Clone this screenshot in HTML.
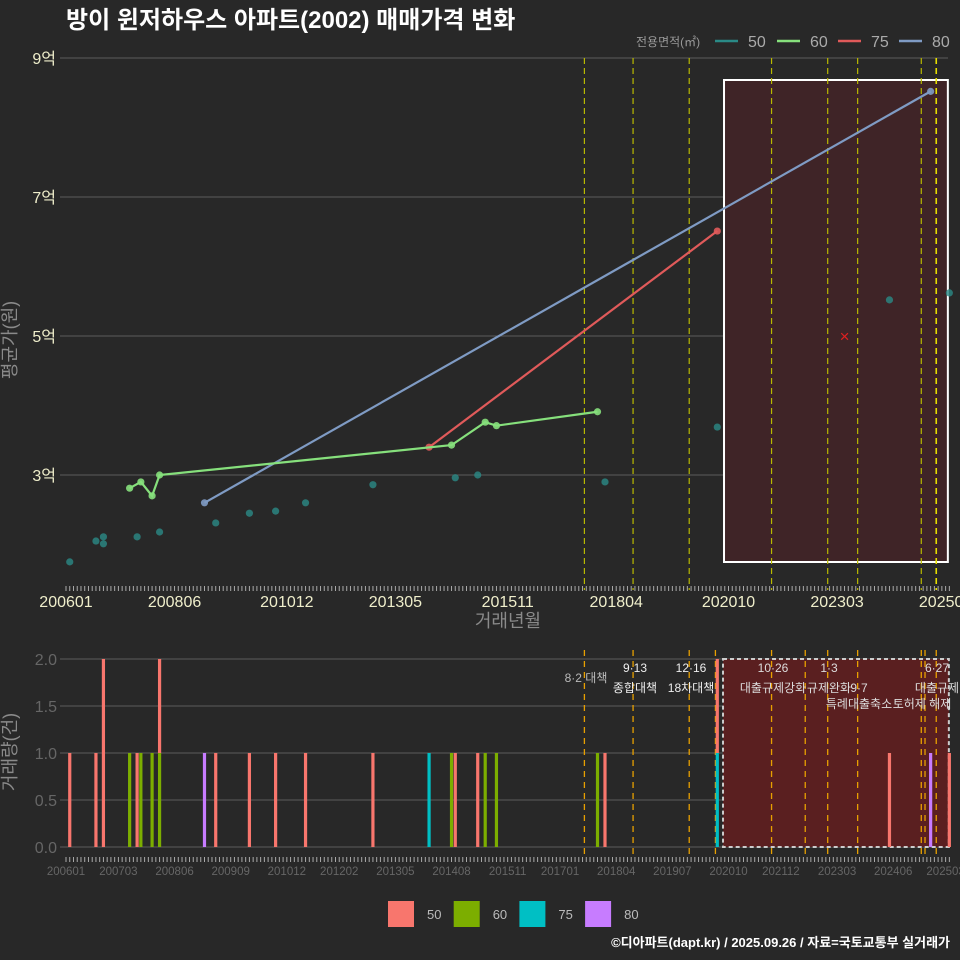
<!DOCTYPE html>
<html><head><meta charset="utf-8">
<style>
html,body{margin:0;padding:0;background:#282828;}
svg{display:block;font-family:"Liberation Sans","Noto Sans CJK KR",sans-serif;}
</style></head>
<body>
<svg id="chart" width="960" height="960" viewBox="0 0 960 960" xmlns="http://www.w3.org/2000/svg">
<rect x="0" y="0" width="960" height="960" fill="#282828"/>
<text x="66" y="28" fill="#ffffff" font-size="24" font-weight="bold">방이 윈저하우스 아파트(2002) 매매가격 변화</text>
<g id="top"></g>
<g id="bottom"></g>
<g id="legend-top">
<text x="636" y="46" fill="#999" font-size="12">전용면적(㎡)</text>
</g>
<g id="legend-bottom"></g>
<text x="16" y="340" fill="#8a8a8a" font-size="18" text-anchor="middle" transform="rotate(-90 16 340)">평균가(원)</text>
<text x="16" y="752" fill="#8a8a8a" font-size="18" text-anchor="middle" transform="rotate(-90 16 752)">거래량(건)</text>
<text x="508" y="627" fill="#8a8a8a" font-size="18" text-anchor="middle">거래년월</text>
<text x="950" y="947" fill="#ffffff" font-size="13" font-weight="bold" text-anchor="end">©디아파트(dapt.kr) / 2025.09.26 / 자료=국토교통부 실거래가</text>
</svg>
<script>
// ---- data (months since 2006-01) ----
const areas = ['50','60','75','80'];
const lineColors = ['#2a8a86','#86e07c','#e05a5a','#7f9bc4'];
const barColors = ['#F8766D','#7CAE00','#00BFC4','#C77CFF'];
const s50Months = [1,8,10,10,19,25,40,49,56,64,82,104,110,144,174,220,236];
const s50Values = [1.75,2.05,2.11,2.01,2.11,2.18,2.31,2.45,2.48,2.60,2.86,2.96,3.00,2.90,3.69,5.52,5.62];
const s60Months = [17,20,23,25,103,112,115,142];
const s60Values = [2.81,2.90,2.70,3.00,3.43,3.76,3.71,3.91];
const s75Months = [97,174];
const s75Values = [3.40,6.51];
const s80Months = [37,231];
const s80Values = [2.60,8.52];
const priceTicks = [3,5,7,9];
const priceTickLabels = ['3억','5억','7억','9억'];
const topXTickMonths = [0,29,59,88,118,147,177,206,235];
const topXTickLabels = ['200601','200806','201012','201305','201511','201804','202010','202303','202508'];
const botXTickMonths = [0,14,29,44,59,73,88,103,118,132,147,162,177,191,206,221,235];
const botXTickLabels = ['200601','200703','200806','200909','201012','201202','201305','201408','201511','201701','201804','201907','202010','202112','202303','202406','202503'];
const volTicks = [0,0.5,1,1.5,2];
const volTickLabels = ['0.0','0.5','1.0','1.5','2.0'];
// bars: month, area index, count
const barMonths = [1,8,10,19,17,20,23,25,25,37,40,49,56,64,82,97,103,104,110,112,115,142,144,174,174,220,231,236];
const barAreas  = [0,0,0,0,1,1,1,1,0,3,0,0,0,0,0,2,1,0,0,1,1,1,0,2,0,0,3,0];
const barCounts = [1,1,2,1,1,1,1,1,1,1,1,1,1,1,1,1,1,1,1,1,1,1,1,1,1,1,1,1];
const policyMonths = [138.5,151.5,166.5,188.5,203.5,211.5,228.5,232.5];
const policyMonthsBottom = [138.5,151.5,166.5,173.5,188.5,197.5,203.5,211.5,228.5,229.5,232.5];
const highlightStart = 175.8, highlightEnd = 235.6;

const NS='http://www.w3.org/2000/svg';
function mk(tag, attrs, parent){const e=document.createElementNS(NS,tag);for(const k in attrs)e.setAttribute(k,attrs[k]);parent.appendChild(e);return e;}
const xS = m => 66 + m*3.743;
const yTop = v => 475 - (v-3)*69.5;
const yBot = v => 847 - v*94;
const topG=document.getElementById('top'), botG=document.getElementById('bottom');

priceTicks.forEach((t,i)=>{
  const l=mk('line',{x1:60,x2:948,y1:yTop(t),y2:yTop(t),stroke:'#5c5c5c','stroke-width':1},topG);
  
  const tx=mk('text',{x:56,y:yTop(t)+6,fill:'#efeecb','font-size':16,'text-anchor':'end'},topG);
  tx.textContent=priceTickLabels[i];
  
});
const hb=mk('rect',{x:xS(highlightStart),y:80,width:xS(highlightEnd)-xS(highlightStart),height:482,fill:'#3f2427',stroke:'#ffffff','stroke-width':2},topG);

policyMonths.forEach((m,i)=>{
  const l=mk('line',{x1:xS(m),x2:xS(m),y1:58,y2:590,stroke:i==7?'#e8e000':'#b8b800','stroke-width':i==7?1.6:1.2,'stroke-dasharray':'6 4'},topG);
  
});
for(let m=0;m<=236;m++){mk('line',{x1:xS(m),x2:xS(m),y1:586,y2:591,stroke:'#aaa','stroke-width':1},topG);}
topXTickMonths.forEach((m,i)=>{
  const tx=mk('text',{x:xS(m),y:607,fill:'#efeecb','font-size':16,'text-anchor':'middle'},topG);
  tx.textContent=topXTickLabels[i];
  
});
function series(ms,vs,ci,isLine,name){
  if(isLine){
    const p=mk('polyline',{points:ms.map((m,i)=>xS(m)+','+yTop(vs[i])).join(' '),fill:'none',stroke:lineColors[ci],'stroke-width':2.2},topG);
    
  }
  ms.forEach((m,i)=>{
    const c=mk('circle',{cx:xS(m),cy:yTop(vs[i]),r:3.6,fill:lineColors[ci],opacity:isLine?0.9:0.8},topG);
    
  });
}
series(s50Months,s50Values,0,false,'area-50');
series(s80Months,s80Values,3,true,'area-80');
series(s75Months,s75Values,2,true,'area-75');
series(s60Months,s60Values,1,true,'area-60');
const xm=mk('text',{x:xS(208),y:yTop(5)+6,fill:'#e02020','font-size':17,'text-anchor':'middle'},topG);
xm.textContent='×';

volTicks.forEach((t,i)=>{
  const l=mk('line',{x1:60,x2:948,y1:yBot(t),y2:yBot(t),stroke:'#5c5c5c','stroke-width':1},botG);
  
  const tx=mk('text',{x:57,y:yBot(t)+6,fill:'#666','font-size':16,'text-anchor':'end'},botG);
  tx.textContent=volTickLabels[i];
  
});
const hb2=mk('rect',{x:xS(highlightStart)-1,y:yBot(2),width:xS(highlightEnd)-xS(highlightStart)+2,height:yBot(0)-yBot(2),fill:'#5a1f20',stroke:'#cccccc','stroke-width':2,'stroke-dasharray':'4 3'},botG);

policyMonthsBottom.forEach(m=>{
  const l=mk('line',{x1:xS(m),x2:xS(m),y1:650,y2:858,stroke:'#e8a000','stroke-width':1.3,'stroke-dasharray':'6 5'},botG);
  
});
const stackOrder=[3,2,1,0];
const base={};
stackOrder.forEach(a=>{
  barMonths.forEach((m,i)=>{
    if(barAreas[i]!==a)return;
    const b0=base[m]||0, b1=b0+barCounts[i];
    const r=mk('rect',{x:xS(m)-1.6,y:yBot(b1),width:3.2,height:yBot(b0)-yBot(b1),fill:barColors[a]},botG);
    
    base[m]=b1;
  });
});
for(let m=0;m<=236;m++){mk('line',{x1:xS(m),x2:xS(m),y1:857,y2:862,stroke:'#aaa','stroke-width':1},botG);}
botXTickMonths.forEach((m,i)=>{
  const tx=mk('text',{x:xS(m),y:875,fill:'#666','font-size':11.5,'text-anchor':'middle'},botG);
  tx.textContent=botXTickLabels[i];
  
});
const ann=[[586,682,'8·2 대책','#bbbbbb'],[635,672,'9·13','#eee'],[635,692,'종합대책','#eee'],[691,672,'12·16','#eee'],[691,692,'18차대책','#eee'],
[773,672,'10·26','#ddd'],[773,692,'대출규제강화','#ddd'],[829,672,'1·3','#ddd'],[829,692,'규제완화','#ddd'],[859,692,'9·7','#ddd'],[859,708,'특례대출축소','#ddd'],[922,708,'토허제 해제','#ddd'],[937,672,'6·27','#ddd'],[937,692,'대출규제','#ddd']];
ann.forEach(a=>{
  const t=mk('text',{x:a[0],y:a[1],fill:a[3],'font-size':12,'text-anchor':'middle'},botG);
  t.textContent=a[2];
});
const lt=document.getElementById('legend-top'), lb=document.getElementById('legend-bottom');
const lx=[715,777,838,899];
areas.forEach((a,i)=>{
  const l=mk('line',{x1:lx[i],x2:lx[i]+23,y1:41,y2:41,stroke:lineColors[i],'stroke-width':2.4},lt);
  
  const t=mk('text',{x:lx[i]+33,y:47,fill:'#aaa','font-size':16},lt);
  t.textContent=a;
  const bx=388+i*65.7;
  const r=mk('rect',{x:bx,y:901,width:26,height:26,fill:barColors[i]},lb);
  
  const t2=mk('text',{x:bx+39,y:919,fill:'#bbb','font-size':13},lb);
  t2.textContent=a;
});
</script>
</body></html>
